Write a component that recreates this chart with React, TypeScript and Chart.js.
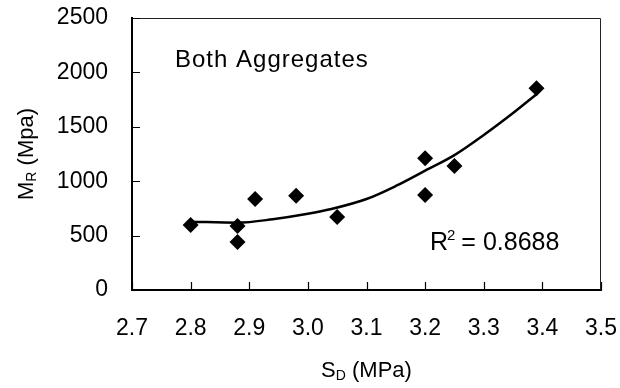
import React, { useEffect, useRef } from "react";
import { Chart, registerables } from "chart.js";

Chart.register(...registerables);

// Measured points: S_D (MPa) vs M_R (MPa)
const sdValues = [2.8, 2.88, 2.88, 2.91, 2.98, 3.05, 3.2, 3.2, 3.25, 3.39];
const mrValues = [597, 588, 441, 836, 866, 671, 1210, 873, 1140, 1855];

// Trend curve
const trendX = [2.8, 2.88, 2.94, 3.0, 3.04, 3.1, 3.15, 3.2, 3.25, 3.3, 3.35, 3.39];
const trendY = [628, 619, 650, 700, 744, 836, 956, 1097, 1240, 1425, 1627, 1800];

const xTicks = [2.7, 2.8, 2.9, 3.0, 3.1, 3.2, 3.3, 3.4, 3.5];
const yTicks = [0, 500, 1000, 1500, 2000, 2500];

const annotationText = "Both Aggregates";
const r2Text = "0.8688";

const FONT = "'Liberation Sans', Arial, sans-serif";

const decorPlugin = {
  id: "decor",
  afterDraw(chart: any) {
    const { ctx, chartArea } = chart;
    const { left, right, top, bottom } = chartArea;
    const xs = chart.scales.x;
    const ys = chart.scales.y;
    ctx.save();
    // frame top/right
    ctx.strokeStyle = "#222";
    ctx.lineWidth = 1;
    ctx.beginPath();
    ctx.moveTo(left, top + 0.5);
    ctx.lineTo(right - 0.5, top + 0.5);
    ctx.lineTo(right - 0.5, bottom);
    ctx.stroke();
    // inner ticks
    ctx.strokeStyle = "#000";
    ctx.lineWidth = 1.2;
    ctx.beginPath();
    xTicks.forEach((v) => {
      const px = Math.round(xs.getPixelForValue(v)) + 0.5;
      ctx.moveTo(px, bottom);
      ctx.lineTo(px, bottom - 8);
    });
    yTicks.forEach((v) => {
      const py = Math.round(ys.getPixelForValue(v)) + 0.5;
      ctx.moveTo(left, py);
      ctx.lineTo(left + 8, py);
    });
    ctx.stroke();

    ctx.fillStyle = "#000";
    ctx.textBaseline = "alphabetic";
    ctx.textAlign = "left";

    // Both Aggregates
    ctx.font = `24px ${FONT}`;
    (ctx as any).letterSpacing = "1px";
    ctx.fillText(annotationText, left + 43, top + 49);
    (ctx as any).letterSpacing = "0px";

    // R^2 = 0.8688
    const rx = left + 298;
    const ry = top + 232;
    ctx.font = `25px ${FONT}`;
    ctx.fillText("R", rx, ry);
    const rw = ctx.measureText("R").width;
    ctx.font = `15px ${FONT}`;
    ctx.fillText("2", rx + rw - 1, ry - 10);
    const sw = ctx.measureText("2").width;
    ctx.font = `25px ${FONT}`;
    ctx.fillText(" = " + r2Text, rx + rw + sw - 2, ry);

    const drawTitle = (main: string, sub: string, rest: string) => {
      ctx.font = `22px ${FONT}`;
      const w1 = ctx.measureText(main).width;
      const w3 = ctx.measureText(rest).width;
      ctx.font = `14px ${FONT}`;
      const w2 = ctx.measureText(sub).width;
      const total = w1 + w2 + w3;
      let x0 = -total / 2;
      ctx.font = `22px ${FONT}`;
      ctx.fillText(main, x0, 0);
      x0 += w1;
      ctx.font = `14px ${FONT}`;
      ctx.fillText(sub, x0, 3);
      x0 += w2;
      ctx.font = `22px ${FONT}`;
      ctx.fillText(rest, x0, 0);
    };
    ctx.save();
    ctx.translate((left + right) / 2, 377);
    drawTitle("S", "D", " (MPa)");
    ctx.restore();

    ctx.save();
    ctx.translate(33, (top + bottom) / 2);
    ctx.rotate(-Math.PI / 2);
    drawTitle("M", "R", " (Mpa)");
    ctx.restore();

    ctx.restore();
  },
};

export default function App() {
  const ref = useRef<HTMLCanvasElement | null>(null);
  useEffect(() => {
    document.body.style.margin = "0";
    const canvas = ref.current;
    if (!canvas) return;
    const chart = new Chart(canvas, {
      type: "scatter",
      data: {
        datasets: [
          {
            type: "line",
            label: "Trend",
            data: trendX.map((x, i) => ({ x, y: trendY[i] })),
            borderColor: "#000",
            borderWidth: 2.5,
            pointRadius: 0,
            tension: 0.4,
            cubicInterpolationMode: "monotone",
            fill: false,
            order: 2,
          } as any,
          {
            label: "Data",
            data: sdValues.map((x, i) => ({ x, y: mrValues[i] })),
            pointStyle: "rectRot",
            pointRadius: 8,
            backgroundColor: "#000",
            borderColor: "#000",
            borderWidth: 0,
            order: 1,
          },
        ],
      },
      options: {
        animation: false,
        responsive: false,
        devicePixelRatio: 1,
        layout: { padding: { top: 18, right: 19, left: 0, bottom: 0 } },
        plugins: {
          legend: { display: false },
          tooltip: { enabled: false },
          title: { display: false },
        },
        scales: {
          x: {
            type: "linear",
            min: 2.7,
            max: 3.5,
            afterBuildTicks: (axis: any) => {
              axis.ticks = xTicks.map((v) => ({ value: v }));
            },
            afterFit: (axis: any) => {
              axis.height = 98;
              axis.paddingLeft = 0;
              axis.paddingRight = 0;
            },
            grid: { display: false, drawTicks: false },
            border: { display: true, color: "#000", width: 2 },
            ticks: {
              padding: 25,
              color: "#000",
              font: { family: FONT, size: 23 },
              callback: (v: any) => Number(v).toFixed(1),
            },
          },
          y: {
            type: "linear",
            min: 0,
            max: 2500,
            afterBuildTicks: (axis: any) => {
              axis.ticks = yTicks.map((v) => ({ value: v }));
            },
            afterFit: (axis: any) => {
              axis.width = 132;
              axis.paddingTop = 0;
              axis.paddingBottom = 0;
            },
            grid: { display: false, drawTicks: false },
            border: { display: true, color: "#000", width: 2 },
            ticks: {
              padding: 24,
              color: "#000",
              font: { family: FONT, size: 23 },
              callback: (v: any) => String(v),
            },
          },
        },
      },
      plugins: [decorPlugin],
    });
    return () => chart.destroy();
  }, []);
  return <canvas ref={ref} width={620} height={388} style={{ display: "block" }} />;
}
